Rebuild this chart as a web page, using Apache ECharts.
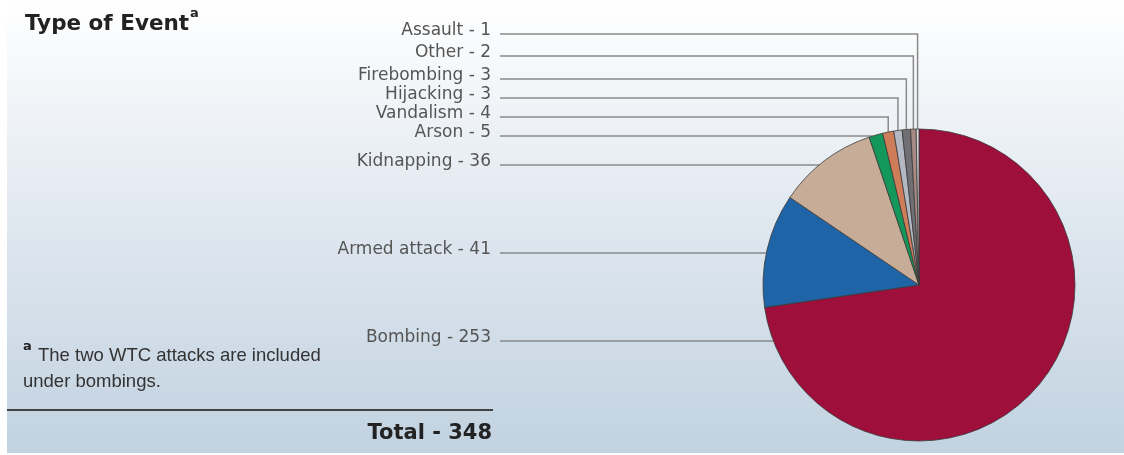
<!DOCTYPE html>
<html>
<head>
<meta charset="utf-8">
<script src="https://cdn.jsdelivr.net/npm/echarts@6/dist/echarts.min.js"></script>
<style>
  html, body { margin: 0; padding: 0; background: #fff; }
  #chart { width: 1124px; height: 455px; }
</style>
</head>
<body>
<div id="chart"></div>
<script>
// Event types, counted clockwise from 12 o'clock
const eventTypes = ['Bombing', 'Armed attack', 'Kidnapping', 'Arson', 'Vandalism', 'Hijacking', 'Firebombing', 'Other', 'Assault'];
const eventCounts = [253, 41, 36, 5, 4, 3, 3, 2, 1];
const sliceColors = ['#9e0f3c', '#1f64a6', '#c7ad97', '#13975b', '#cf7d58', '#b3b8c2', '#6f6f74', '#a88a84', '#d6d6da'];

// Leader-line rows on the left (pixel rows, one per event type)
const labelRows = [341, 253, 165, 136, 117, 98, 79, 56, 34];

const CX = 919, CY = 285, R = 156;
const LABEL_RIGHT = 491, LINE_START = 500;
const total = eventCounts.reduce((a, b) => a + b, 0);

function midAngle(i) {
  let cum = 0;
  for (let k = 0; k < i; k++) cum += eventCounts[k];
  return (cum + eventCounts[i] / 2) / total * 2 * Math.PI;
}

function textWidth(text, font) {
  const c = document.createElement('canvas').getContext('2d');
  c.font = font;
  return c.measureText(text).width;
}

const chart = echarts.init(document.getElementById('chart'), null, { renderer: 'canvas' });

const titleFont = 'bold 21.5px "DejaVu Sans"';
const titleText = 'Type of Event';
const titleX = 25;
const titleW = textWidth(titleText, titleFont);
const noteFont = '18.5px "Liberation Sans"';

const option = {
  animation: false,
  backgroundColor: '#ffffff',
  graphic: [
    {
      type: 'rect', z: -10, silent: true,
      shape: { x: 7, y: 0, width: 1117, height: 453 },
      style: {
        fill: new echarts.graphic.LinearGradient(0, 0, 0, 1, [
          { offset: 0, color: '#ffffff' },
          { offset: 0.5, color: '#dfe7ef' },
          { offset: 1, color: '#c1d2e0' }
        ])
      }
    },
    {
      type: 'text', x: titleX, y: 24, silent: true,
      style: { text: titleText, font: titleFont, fill: '#222', verticalAlign: 'middle' }
    },
    {
      type: 'text', x: titleX + titleW + 1, y: 14, silent: true,
      style: { text: 'a', font: 'bold 13px "DejaVu Sans"', fill: '#222', verticalAlign: 'middle' }
    },
    {
      type: 'text', x: 23, y: 347, silent: true,
      style: { text: 'a', font: 'bold 13px "DejaVu Sans"', fill: '#222', verticalAlign: 'middle' }
    },
    {
      type: 'text', x: 38, y: 356, silent: true,
      style: { text: 'The two WTC attacks are included', font: noteFont, fill: '#333', verticalAlign: 'middle' }
    },
    {
      type: 'text', x: 23, y: 382, silent: true,
      style: { text: 'under bombings.', font: noteFont, fill: '#333', verticalAlign: 'middle' }
    },
    {
      type: 'line', silent: true,
      shape: { x1: 7, y1: 410, x2: 493, y2: 410 },
      style: { stroke: '#444', lineWidth: 2 }
    },
    {
      type: 'text', x: 492, y: 434, silent: true,
      style: { text: 'Total - ' + total, font: 'bold 21px "DejaVu Sans"', fill: '#222', align: 'right', verticalAlign: 'middle' }
    }
  ],
  series: [
    {
      type: 'pie',
      center: [CX, CY],
      radius: R,
      startAngle: 90,
      clockwise: true,
      avoidLabelOverlap: false,
      data: eventTypes.map((name, i) => ({
        name: name,
        value: eventCounts[i],
        itemStyle: { color: sliceColors[i] }
      })),
      itemStyle: { borderColor: '#3a3a3a', borderWidth: 0.8 },
      label: {
        show: true,
        position: 'outside',
        formatter: '{b} - {c}',
        fontFamily: 'DejaVu Sans',
        fontSize: 17,
        color: '#555'
      },
      labelLine: {
        show: true,
        lineStyle: { color: '#8a8a8a', width: 1.5 }
      },
      labelLayout: function (p) {
        const i = p.dataIndex;
        const ly = labelRows[i];
        let pts;
        if (i <= 3) {
          // straight leader into the wedge where the row meets the rim
          const ex = CX - Math.sqrt(R * R - (ly - CY) * (ly - CY));
          pts = [[ex, ly], [ex, ly], [LINE_START, ly]];
        } else {
          // thin wedges: drop from the row down to the rim at mid-angle
          const a = midAngle(i);
          const px = CX + R * Math.sin(a);
          const py = CY - R * Math.cos(a);
          pts = [[px, py], [px, ly], [LINE_START, ly]];
        }
        return {
          x: LABEL_RIGHT,
          y: ly - 3,
          align: 'right',
          verticalAlign: 'middle',
          labelLinePoints: pts
        };
      }
    }
  ]
};

chart.setOption(option);
</script>
</body>
</html>
